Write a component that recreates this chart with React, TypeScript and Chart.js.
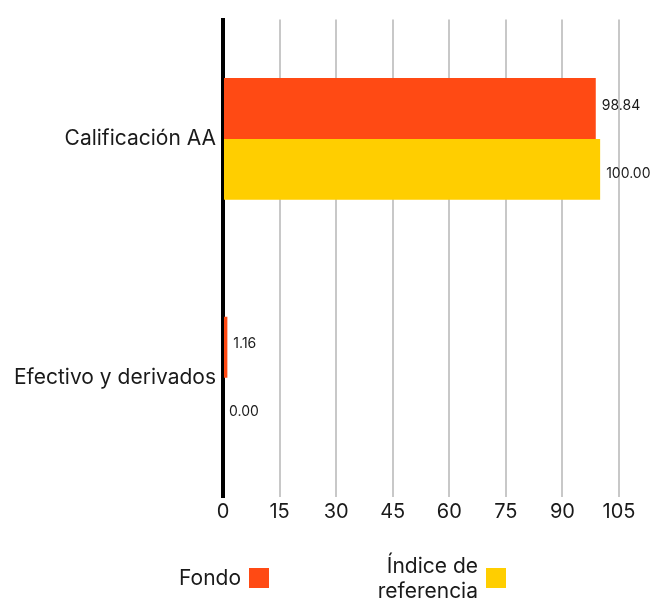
import { useEffect, useRef } from "react";
import { Chart, registerables } from "chart.js";

Chart.register(...registerables);

const categories = ["Calificación AA", "Efectivo y derivados"];
const fondoValues = [98.84, 1.16];
const indiceValues = [100.0, 0.0];
const seriesLabels = ["Fondo", "Índice de referencia"];
const legendLines = [["Fondo"], ["Índice de", "referencia"]];
const seriesColors = ["#FF4A14", "#FFCE00"];
const xMin = 0;
const xMax = 105;
const xStep = 15;

const FONT = "Inter, 'Noto Sans', sans-serif";
const TEXT = "#1a1a1a";

const dataLabelPlugin = {
  id: "dataLabels",
  afterDatasetsDraw(chart: any) {
    const ctx = chart.ctx;
    ctx.save();
    ctx.font = `14px ${FONT}`;
    ctx.fillStyle = TEXT;
    ctx.textAlign = "left";
    ctx.textBaseline = "middle";
    chart.data.datasets.forEach((ds: any, i: number) => {
      const meta = chart.getDatasetMeta(i);
      const dy = i === 0 ? -3 : 4;
      meta.data.forEach((bar: any, j: number) => {
        const v = ds.data[j] as number;
        ctx.fillText(v.toFixed(2), bar.x + 6, bar.y + dy);
      });
    });
    ctx.restore();
  },
};

const legendPlugin = {
  id: "customLegend",
  afterDraw(chart: any) {
    const ctx = chart.ctx;
    const cx = chart.width / 2;
    const anchors = [cx - 83, cx + 154]; // left edge of each colour box
    const boxSize = 20;
    const boxTop = chart.height - 35;
    const lineH = 25;
    ctx.save();
    ctx.font = `21px ${FONT}`;
    ctx.fillStyle = TEXT;
    ctx.textAlign = "right";
    ctx.textBaseline = "middle";
    legendLines.forEach((lines, i) => {
      const bx = anchors[i];
      ctx.fillStyle = seriesColors[i];
      ctx.fillRect(bx, boxTop, boxSize, boxSize);
      ctx.fillStyle = TEXT;
      const midY = boxTop + boxSize / 2 + 1;
      const startY = midY - ((lines.length - 1) * lineH) / 2;
      lines.forEach((ln, k) => {
        ctx.fillText(ln, bx - 8, startY + k * lineH);
      });
    });
    ctx.restore();
  },
};

export default function App() {
  const ref = useRef<HTMLCanvasElement | null>(null);

  useEffect(() => {
    if (!ref.current) return;
    const chart = new Chart(ref.current, {
      type: "bar",
      data: {
        labels: categories,
        datasets: [
          {
            label: seriesLabels[0],
            data: fondoValues,
            backgroundColor: seriesColors[0],
            categoryPercentage: 0.51,
            barPercentage: 1.0,
          },
          {
            label: seriesLabels[1],
            data: indiceValues,
            backgroundColor: seriesColors[1],
            categoryPercentage: 0.51,
            barPercentage: 1.0,
          },
        ],
      },
      options: {
        indexAxis: "y",
        animation: false,
        responsive: true,
        maintainAspectRatio: false,
        layout: { padding: { top: 15, right: 45, bottom: 76, left: 0 } },
        plugins: {
          legend: { display: false },
          tooltip: { enabled: false },
        },
        scales: {
          x: {
            min: xMin,
            max: xMax,
            ticks: {
              stepSize: xStep,
              padding: 3,
              color: TEXT,
              font: { family: FONT, size: 20 },
            },
            grid: {
              color: "#c8c8c8",
              lineWidth: 2,
              drawTicks: false,
            },
            border: { display: false },
            afterFit(scale: any) {
              scale.height = 30;
            },
          },
          y: {
            z: 1,
            ticks: {
              padding: 7,
              color: TEXT,
              font: { family: FONT, size: 21 },
            },
            grid: { display: false, drawTicks: false },
            border: { display: true, color: "#000000", width: 4 },
            afterFit(scale: any) {
              scale.width = 223;
            },
          },
        },
      },
      plugins: [dataLabelPlugin, legendPlugin],
    });
    return () => chart.destroy();
  }, []);

  return (
    <div style={{ position: "fixed", left: 0, top: 0, width: 664, height: 603, background: "#fff" }}>
      <canvas ref={ref} />
    </div>
  );
}
